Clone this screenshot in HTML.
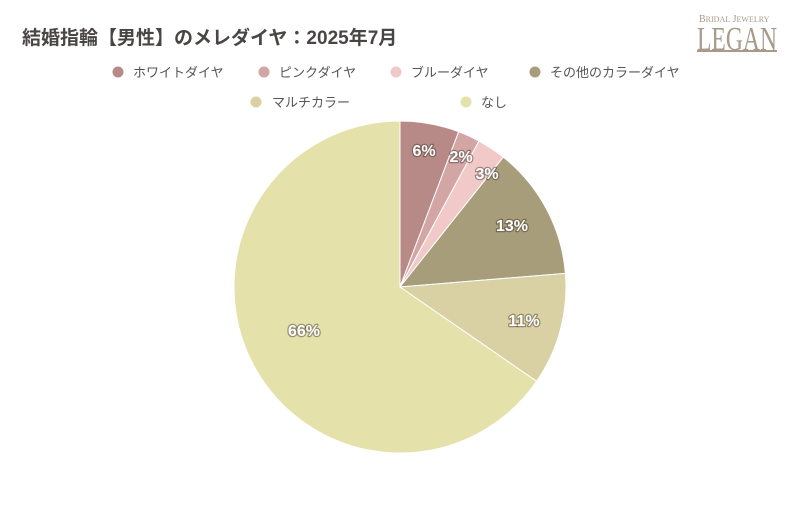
<!DOCTYPE html>
<html><head><meta charset="utf-8"><style>
body{margin:0;background:#fff;width:800px;height:500px;overflow:hidden}
text{font-family:"Liberation Sans","Noto Sans CJK JP",sans-serif}
</style></head><body>
<svg width="800" height="500" viewBox="0 0 800 500" xmlns="http://www.w3.org/2000/svg">
<rect width="800" height="500" fill="#fff"/>
<text x="22" y="44" font-size="19" font-weight="bold" fill="#4a4545">結婚指輪【男性】のメレダイヤ：2025年7月</text>
<text x="699" y="22" font-size="10" fill="#a89a88" style="font-family:'Liberation Serif',serif">B<tspan font-size="8">RIDAL</tspan> J<tspan font-size="8">EWELRY</tspan></text>
<text x="697" y="50" font-size="34" fill="#a89a88" style="font-family:'Liberation Serif',serif" textLength="80" lengthAdjust="spacingAndGlyphs">LEGAN</text>
<rect x="697" y="50" width="80" height="2" fill="#a89a88"/>
<g font-size="13" fill="#555">
<circle cx="118" cy="72" r="5.5" fill="#b88a87"/><text x="133" y="77">ホワイトダイヤ</text>
<circle cx="264" cy="72" r="5.5" fill="#d4a5a5"/><text x="279" y="77">ピンクダイヤ</text>
<circle cx="396" cy="72" r="5.5" fill="#f2c9c9"/><text x="411" y="77">ブルーダイヤ</text>
<circle cx="535" cy="72" r="5.5" fill="#a89d7b"/><text x="550" y="77">その他のカラーダイヤ</text>
<circle cx="256" cy="102" r="5.5" fill="#d9d0a3"/><text x="272" y="107">マルチカラー</text>
<circle cx="466" cy="102" r="5.5" fill="#e5e1ab"/><text x="481" y="107">なし</text>
</g>
<g stroke="#fff" stroke-width="1">
<path d="M400,287 L400,121 A166,166 0 0 1 458.7,131.7 Z" fill="#b88a87"/>
<path d="M400,287 L458.7,131.7 A166,166 0 0 1 479,141 Z" fill="#d4a5a5"/>
<path d="M400,287 L479,141 A166,166 0 0 1 503.3,157.1 Z" fill="#f2c9c9"/>
<path d="M400,287 L503.3,157.1 A166,166 0 0 1 565.4,273.4 Z" fill="#a89d7b"/>
<path d="M400,287 L565.4,273.4 A166,166 0 0 1 536.6,381.3 Z" fill="#d9d0a3"/>
<path d="M400,287 L536.6,381.3 A166,166 0 1 1 400,121 Z" fill="#e5e1ab"/>
</g>
<g font-size="16" font-weight="bold" fill="#fff" text-anchor="middle" stroke="rgba(60,50,40,0.45)" stroke-width="2.5" paint-order="stroke" stroke-linejoin="round">
<text x="424" y="156">6%</text>
<text x="461" y="162">2%</text>
<text x="487" y="179">3%</text>
<text x="512" y="231">13%</text>
<text x="524" y="326">11%</text>
<text x="304" y="336">66%</text>
</g>
</svg>
</body></html>
